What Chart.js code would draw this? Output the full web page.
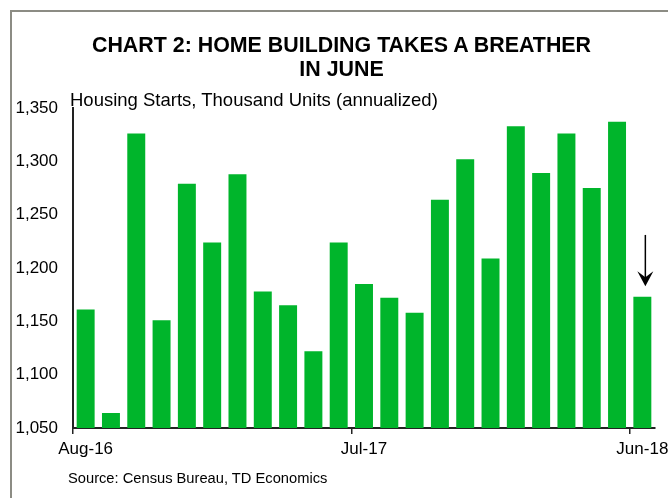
<!DOCTYPE html>
<html>
<head>
<meta charset="utf-8">
<script src="https://cdn.jsdelivr.net/npm/chart.js@4/dist/chart.umd.min.js"></script>
<style>
  body { margin: 0; background: #fff; }
  #wrap { position: relative; width: 668px; height: 498px; overflow: hidden; font-family: "Liberation Sans", Arial, sans-serif; color: #000; }
  #frame { position: absolute; left: 10px; top: 10px; width: 720px; height: 540px; border: 2px solid #8c8c84; }
  #chart { position: absolute; left: 0; top: 0; }
  .title { position: absolute; left: 0; top: 33px; width: 683px; text-align: center; font-weight: bold; font-size: 21.4px; line-height: 24px; }
  .subtitle { position: absolute; left: 70px; top: 89px; font-size: 18.5px; line-height: 21px; white-space: nowrap; }
  .source { position: absolute; left: 68px; top: 470px; font-size: 14.7px; line-height: 17px; white-space: nowrap; }
</style>
</head>
<body>
<div id="wrap">
  <div id="frame"></div>
  <canvas id="chart" width="668" height="498"></canvas>
  <div class="title">CHART 2: HOME BUILDING TAKES A BREATHER<br>IN JUNE</div>
  <div class="subtitle">Housing Starts, Thousand Units (annualized)</div>
  <div class="source">Source: Census Bureau, TD Economics</div>
</div>
<script>
// Monthly housing starts, Aug-16 .. Jun-18
const months = ['Aug-16', 'Sep-16', 'Oct-16', 'Nov-16', 'Dec-16', 'Jan-17', 'Feb-17', 'Mar-17',
  'Apr-17', 'May-17', 'Jun-17', 'Jul-17', 'Aug-17', 'Sep-17', 'Oct-17', 'Nov-17', 'Dec-17',
  'Jan-18', 'Feb-18', 'Mar-18', 'Apr-18', 'May-18', 'Jun-18'];
const starts = [1161, 1064, 1326, 1151, 1279, 1224, 1288, 1178, 1165, 1122, 1224, 1185,
  1172, 1158, 1264, 1302, 1209, 1333, 1289, 1326, 1275, 1337, 1173];
const labelEvery = 11;
const yTicks = [1050, 1100, 1150, 1200, 1250, 1300, 1350];

// down arrow above the last bar
const arrowPlugin = {
  id: 'arrow',
  afterDatasetsDraw(chart) {
    const ctx = chart.ctx;
    const x = chart.scales.x.getPixelForValue(starts.length - 1) + 3;
    const y = chart.scales.y;
    const last = starts[starts.length - 1];
    const top = y.getPixelForValue(last + 58);
    const tip = y.getPixelForValue(last + 10);
    ctx.save();
    ctx.strokeStyle = '#000';
    ctx.fillStyle = '#000';
    ctx.lineWidth = 1.5;
    ctx.beginPath();
    ctx.moveTo(x, top);
    ctx.lineTo(x, tip - 8);
    ctx.stroke();
    ctx.beginPath();
    ctx.moveTo(x - 8, tip - 15);
    ctx.lineTo(x, tip - 9);
    ctx.lineTo(x + 8, tip - 15);
    ctx.lineTo(x, tip);
    ctx.closePath();
    ctx.fill();
    ctx.restore();
  }
};

const chart = new Chart(document.getElementById('chart'), {
  type: 'bar',
  data: {
    labels: months,
    datasets: [{
      data: starts,
      backgroundColor: '#00b52b',
      borderWidth: 0,
      categoryPercentage: 1,
      barPercentage: 0.71
    }]
  },
  options: {
    responsive: false,
    animation: false,
    layout: { padding: { left: 5, right: 13, top: 108, bottom: 40 } },
    plugins: { legend: { display: false }, tooltip: { enabled: false } },
    scales: {
      x: {
        offset: true,
        // let the Jun-18 label run past the plot edge like the original
        afterFit: s => { s.height = 30; s.paddingLeft = 0; s.paddingRight = 0; },
        border: { display: true, color: '#222', width: 2 },
        grid: {
          offset: true,
          drawOnChartArea: false,
          tickLength: 6,
          lineWidth: 1.5,
          color: c => (c.index % labelEvery === 0 && c.index < months.length) ? '#222' : 'rgba(0,0,0,0)'
        },
        ticks: {
          autoSkip: false,
          maxRotation: 0,
          padding: 5,
          color: '#000',
          font: { family: 'Liberation Sans', size: 17 },
          callback: (v, i) => (i % labelEvery === 0 ? months[i] : '')
        }
      },
      y: {
        min: 1050,
        max: 1350,
        afterFit: s => { s.width = 68; },
        afterBuildTicks: s => { s.ticks = yTicks.map(v => ({ value: v })); },
        border: { display: true, color: '#222', width: 2 },
        grid: { display: false, drawTicks: false },
        ticks: {
          padding: 15,
          color: '#000',
          font: { family: 'Liberation Sans', size: 17 },
          callback: v => v.toLocaleString('en-US')
        }
      }
    }
  },
  plugins: [arrowPlugin]
});
</script>
</body>
</html>
